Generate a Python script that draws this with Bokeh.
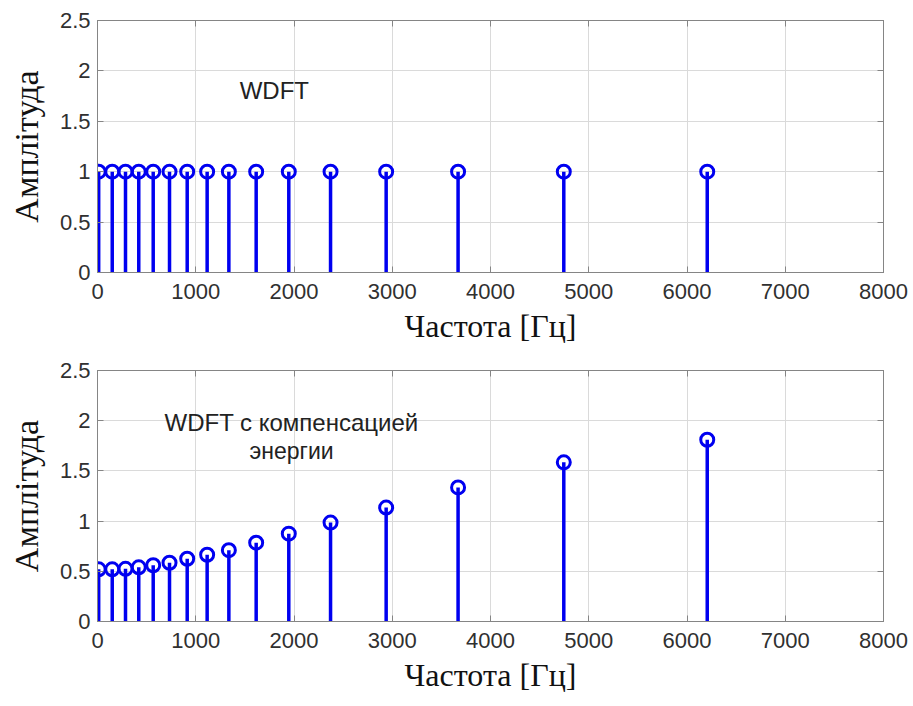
from bokeh.plotting import figure
from bokeh.layouts import column
from bokeh.models import LinearAxis, FixedTicker, Range1d, Label
from bokeh.embed import file_html
from bokeh.resources import INLINE

# ---- data ----
freq_hz = [12, 150, 285, 420, 567, 733, 913, 1116, 1337, 1615, 1947, 2372, 2938, 3670, 4746, 6206]
amp_wdft = [1.0, 1.0, 1.0, 1.0, 1.0, 1.0, 1.0, 1.0, 1.0, 1.0, 1.0, 1.0, 1.0, 1.0, 1.0, 1.0]
amp_comp = [0.52, 0.52, 0.525, 0.54, 0.56, 0.585, 0.625, 0.665, 0.71, 0.785, 0.875, 0.985, 1.135, 1.335, 1.585, 1.81]
x_ticks = [0, 1000, 2000, 3000, 4000, 5000, 6000, 7000, 8000]
y_ticks = [0, 0.5, 1, 1.5, 2, 2.5]
x_label = "Частота [Гц]"
y_label = "Амплітуда"
title_top = ["WDFT"]
title_bottom = ["WDFT с компенсацией", "энергии"]

STEM = "#0000f0"
FRAME = "#858585"
TICKFONT = "Liberation Sans"
SERIF = "Liberation Serif"


def style_axis(ax, ticks, show_labels):
    ax.ticker = FixedTicker(ticks=ticks)
    ax.axis_line_color = FRAME
    ax.major_tick_line_color = FRAME
    ax.major_tick_in = 6
    ax.major_tick_out = 0
    ax.minor_tick_line_color = None
    if show_labels:
        ax.major_label_text_font = TICKFONT
        ax.major_label_text_font_size = "22px"
        ax.major_label_text_color = "#303030"
    else:
        ax.major_label_overrides = {t: "" for t in ticks}
        ax.major_label_standoff = 0


def make_fig(amps, texts, text_x, text_ys, text_sizes, frame_h, top_border, bottom_border):
    p = figure(frame_width=786, frame_height=frame_h,
               x_range=Range1d(0, 8000), y_range=Range1d(0, 2.5),
               output_backend="svg", toolbar_location=None,
               min_border_left=97, min_border_right=30,
               min_border_top=top_border, min_border_bottom=bottom_border)
    p.outline_line_color = FRAME
    p.background_fill_color = "white"
    p.border_fill_color = "white"
    for g in (p.xgrid, p.ygrid):
        g.grid_line_color = "#dadada"
        g.grid_line_width = 1
    p.xgrid.ticker = FixedTicker(ticks=x_ticks)
    p.ygrid.ticker = FixedTicker(ticks=y_ticks)

    xa = p.xaxis[0]
    ya = p.yaxis[0]
    style_axis(xa, x_ticks, True)
    style_axis(ya, y_ticks, True)
    xa.major_label_standoff = 11
    ya.major_label_standoff = 7
    xa.axis_label = x_label
    ya.axis_label = y_label
    for ax in (xa, ya):
        ax.axis_label_text_font = SERIF
        ax.axis_label_text_font_style = "normal"
        ax.axis_label_text_color = "#111111"
    xa.axis_label_text_font_size = "32px"
    ya.axis_label_text_font_size = "34px"
    xa.axis_label_standoff = 6
    ya.axis_label_standoff = 12

    top_ax = LinearAxis()
    style_axis(top_ax, x_ticks, False)
    p.add_layout(top_ax, "above")
    right_ax = LinearAxis()
    style_axis(right_ax, y_ticks, False)
    p.add_layout(right_ax, "right")

    p.segment(x0=freq_hz, y0=[0] * len(freq_hz), x1=freq_hz, y1=amps,
              line_color=STEM, line_width=3.5)
    p.scatter(x=freq_hz, y=amps, marker="circle", size=13,
              fill_color=None, line_color=STEM, line_width=3)

    for t, ty, fs in zip(texts, text_ys, text_sizes):
        p.add_layout(Label(x=text_x, y=ty, text=t, text_align="center",
                           text_baseline="middle", text_font=TICKFONT,
                           text_font_size=fs, text_color="#222222"))
    return p


p1 = make_fig(amp_wdft, title_top, 1800, [1.81], ["24px"], 252, 20, 78)
p2 = make_fig(amp_comp, title_bottom, 1975, [1.98, 1.70], ["24px", "23px"], 251, 20, 85)

layout = column(p1, p2, spacing=0)
open("out.html", "w").write(file_html(layout, INLINE))
